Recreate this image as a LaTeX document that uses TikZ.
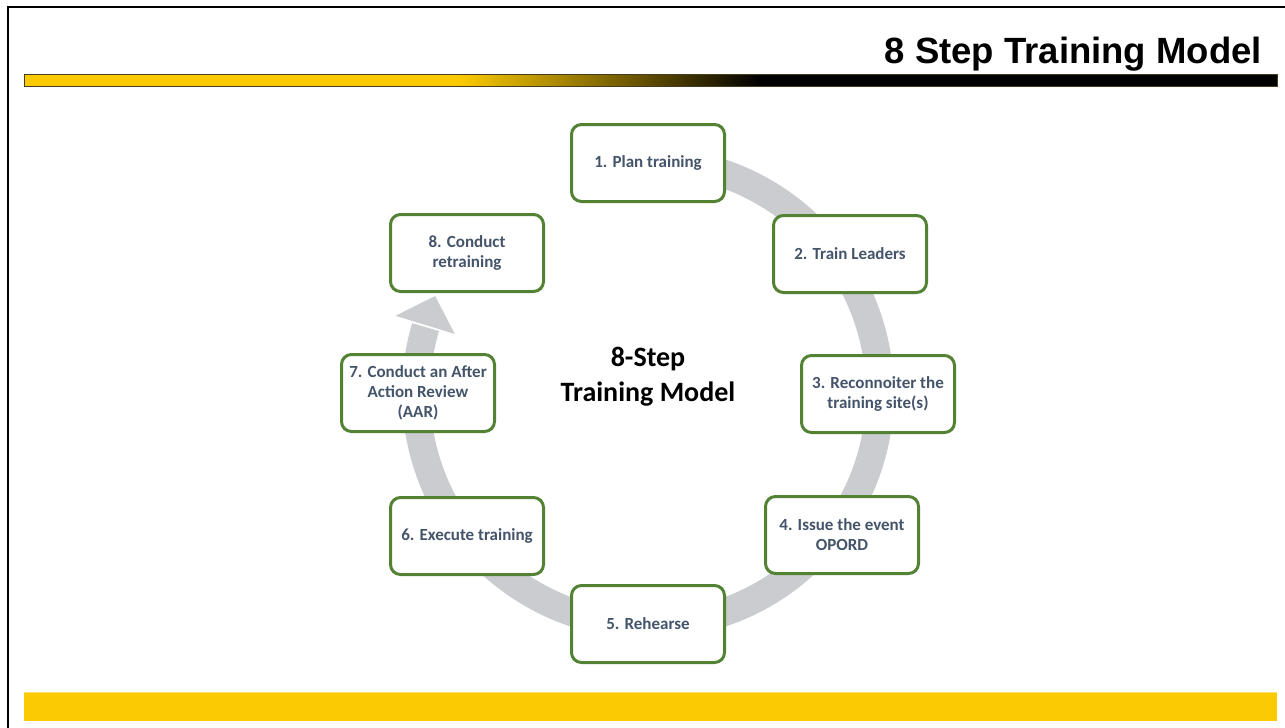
\documentclass[tikz,border=0pt]{standalone}
\usepackage{fontspec}
\setmainfont{Carlito}
\newfontfamily\titlefont{Liberation Sans}
\usetikzlibrary{positioning}

\definecolor{boxgreen}{RGB}{84,130,53}
\definecolor{slatetext}{RGB}{68,84,106}
\definecolor{ringgray}{RGB}{203,204,207}
\definecolor{baryellow}{RGB}{252,202,3}
\definecolor{baredge}{RGB}{70,60,30}

\tikzset{
  stepbox/.style={draw=boxgreen, line width=3pt, rounded corners=10pt, fill=white,
    minimum width=153pt, minimum height=77pt, align=center, inner sep=2pt,
    text=slatetext, font=\fontsize{17}{20}\selectfont\bfseries},
  hubtext/.style={align=center, font=\fontsize{28}{35}\selectfont\bfseries},
  ring/.style={draw=ringgray, line width=28pt}
}

\begin{document}
\begin{tikzpicture}[x=1pt, y=-1pt]
    \useasboundingbox (0,0) rectangle (1285,728);
    % frame lines
    \draw[line width=2.5pt] (8,728) -- (8,7) -- (1285,7);
    % title and header bar
    \node[anchor=base east, inner sep=0pt, font=\titlefont\bfseries\fontsize{36.5}{42}\selectfont]
      (title) at (1262,63) {8 Step Training Model};
    \fill[baryellow] (24,74) rectangle (460,86);
    \shade[left color=baryellow, right color=black] (459.5,74) rectangle (760.5,86);
    \fill[black] (760,74) rectangle (1277,86);
    \draw[baredge, line width=0.8pt] (24,74) rectangle (1277,86);
    % footer bar
    \fill[baryellow] (24,692) rectangle (1277,721);
    \draw[baryellow!60!white, line width=1pt] (24,692.5) -- (1277,692.5);

    % grey cycle arrow behind the steps
    \begin{scope}[shift={(648,393)}, yscale=-1]
      \draw[ring] (100:232) arc[start angle=100, end angle=-196.5, radius=232];
      \fill[ringgray] (163:202) -- (155.5:234) -- (163:264) -- cycle;
    \end{scope}

    % steps
    \node[stepbox] (plan)     at (648,163) {1. Plan training};
    \node[stepbox] (leaders)  at (850,254) {2. Train Leaders};
    \node[stepbox] (recon)    at (878,394) {3. Reconnoiter the\\training site(s)};
    \node[stepbox] (opord)    at (842,535) {4. Issue the event\\OPORD};
    \node[stepbox] (rehearse) at (648,624) {5. Rehearse};
    \node[stepbox] (execute)  at (467,536) {6. Execute training};
    \node[stepbox] (aar)      at (418,393) {7. Conduct an After\\Action Review\\(AAR)};
    \node[stepbox] (retrain)  at (467,253) {8. Conduct\\retraining};

    \node[hubtext] (hub) at (648,377) {8-Step\\Training Model};
\end{tikzpicture}
\end{document}
